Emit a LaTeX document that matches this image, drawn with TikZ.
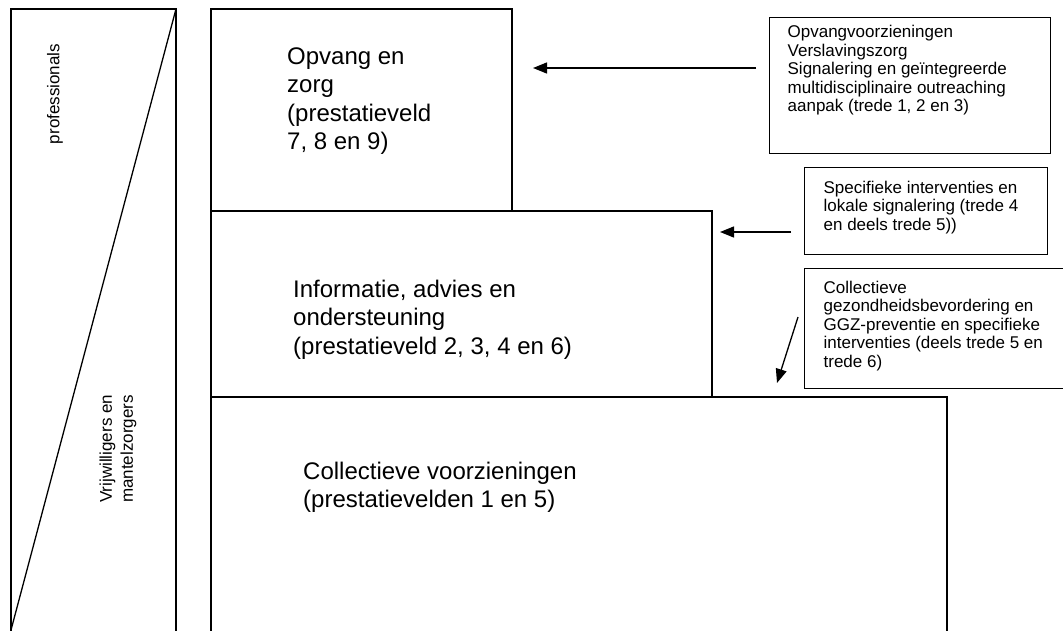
\documentclass[tikz,border=0pt]{standalone}
\usepackage{fontspec}
\setmainfont{Liberation Sans}
\usetikzlibrary{arrows.meta}

\tikzset{
  lijn/.style={line width=1.3pt},
  pijl/.style={line width=1.3pt, -{Triangle[length=14pt,width=11pt]}},
  kader/.style={draw, line width=1.3pt, anchor=north west, inner xsep=18pt,
    font=\fontsize{17}{18.5}\selectfont},
  tekst/.style={anchor=north west, inner sep=0pt, align=left, font=\fontsize{24}{28.5}\selectfont},
  zijtekst/.style={rotate=90, inner sep=0pt, align=left, font=\fontsize{17}{21}\selectfont}
}

\begin{document}
\begin{tikzpicture}[x=1pt, y=-1pt]
  \useasboundingbox (0,0) rectangle (1063,630);

  % linker strook
  \draw[lijn] (11,640) -- (11,9) -- (176,9) -- (176,640);
  \draw[lijn] (176,9) -- (11,630);
  \node[zijtekst] (prof) at (55,94) {professionals};
  \node[zijtekst, anchor=west] (vrijw) at (118,503) {Vrijwilligers en\\mantelzorgers};

  % de drie treden
  \draw[lijn] (211,640) -- (211,9) -- (512,9) -- (512,211) -- (211,211);
  \draw[lijn] (512,211) -- (712,211) -- (712,397) -- (211,397);
  \draw[lijn] (712,397) -- (947,397) -- (947,640);
  \node[tekst] (opvang) at (287,47.5) {Opvang en\\zorg\\(prestatieveld\\7, 8 en 9)};
  \node[tekst] (info) at (293,279.5) {Informatie, advies en\\ondersteuning\\(prestatieveld 2, 3, 4 en 6)};
  \node[tekst] (collectief) at (303,461.5) {Collectieve voorzieningen\\(prestatievelden 1 en 5)};

  % toelichting rechts
  \node[kader, inner ysep=8pt] (trede1) at (769,17) {\parbox[t][120pt][t]{245pt}{Opvangvoorzieningen\\
    Verslavingszorg\\Signalering en geïntegreerde\\multidisciplinaire outreaching\\
    aanpak (trede 1, 2 en 3)}};
  \node[kader, inner xsep=19pt, inner ysep=13.5pt] (trede4) at (804,167) {\parbox[t][60pt][t]{205pt}{Specifieke interventies en\\
    lokale signalering (trede 4\\en deels trede 5))}};
  \node[kader, inner xsep=19pt, inner ysep=12.5pt] (trede5) at (804,268) {\parbox[t][95pt][t]{240pt}{Collectieve\\
    gezondheidsbevordering en\\GGZ-preventie en specifieke\\interventies (deels trede 5 en\\
    trede 6)}};

  % pijlen
  \coordinate (van1) at (756,68);
  \coordinate (naar1) at (533,68);
  \coordinate (van2) at (791,232);
  \coordinate (naar2) at (720,232);
  \coordinate (van3) at (798,317);
  \coordinate (naar3) at (777,383);
  \draw[pijl] (van1) -- (naar1);
  \draw[pijl] (van2) -- (naar2);
  \draw[pijl] (van3) -- (naar3);
\end{tikzpicture}
\end{document}
